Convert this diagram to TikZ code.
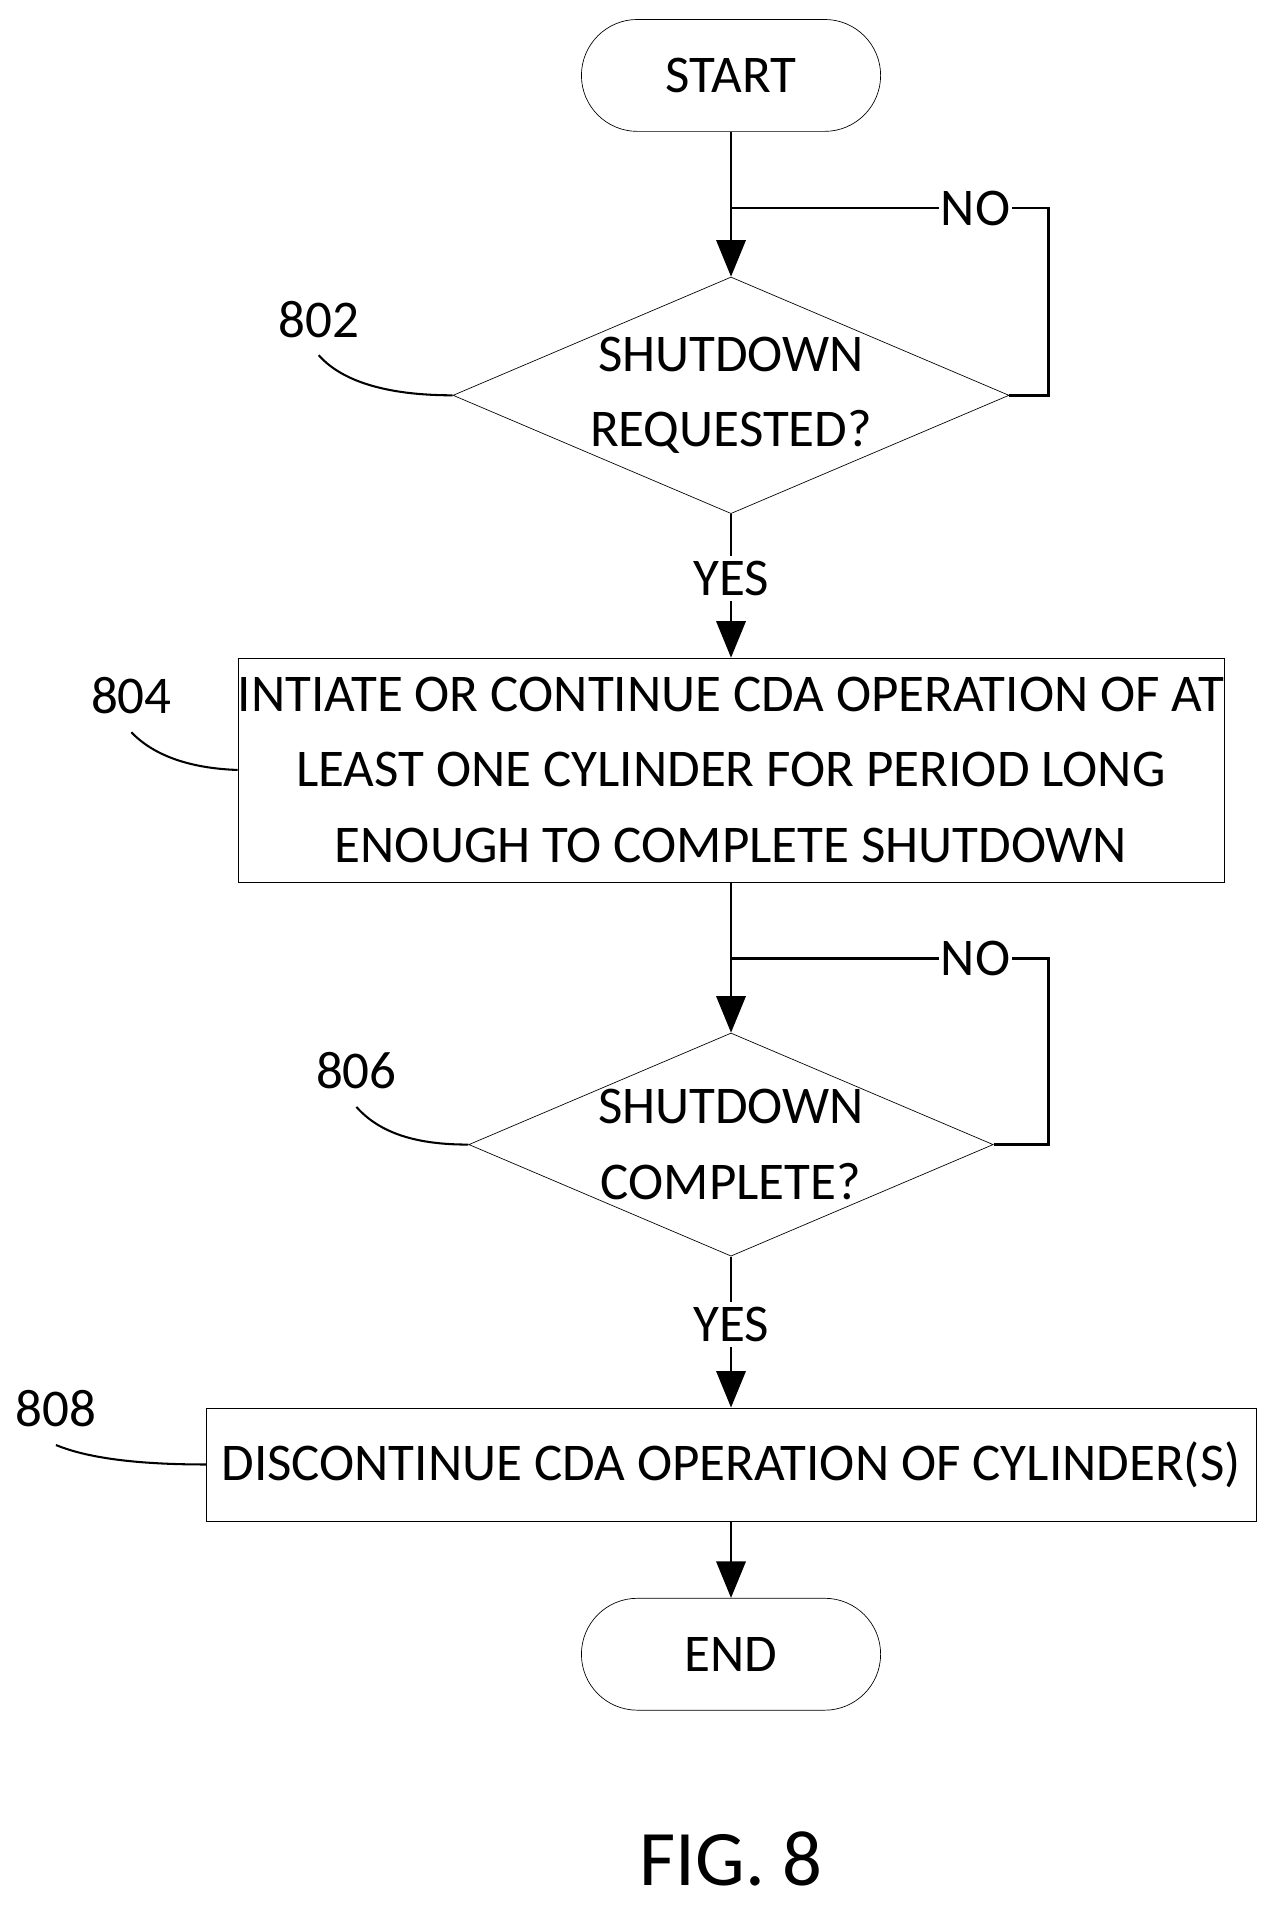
\documentclass[tikz,border=0pt]{standalone}
\usepackage{fontspec}
\setmainfont{Carlito}
\usetikzlibrary{positioning}
\usetikzlibrary{calc}
\usetikzlibrary{shapes.geometric}
\usetikzlibrary{arrows.meta}
\tikzset{txt/.style={font=\fontsize{31}{44}\selectfont}}
\begin{document}
\begin{tikzpicture}[x=0.025cm, y=-0.025cm,
    term/.style={draw, txt, rounded corners=1.15cm, minimum width=246*0.025cm, minimum height=92*0.025cm},
    dec/.style={draw, txt, diamond, aspect=2.35, minimum width=430*0.025cm, minimum height=183*0.025cm, inner sep=0pt, align=center},
    proc/.style={draw, txt, align=center, inner sep=0pt},
    arrow/.style={-{Triangle[length=0.75cm, width=0.6cm]}, line width=1.6pt},
    line/.style={line width=1.6pt},
    ref/.style={txt},
    lead/.style={line width=1.2pt},
]
\useasboundingbox (0,0) rectangle (1050,1567);
\node[term] (start) at (601,62) {START};
\node[dec] (req) at (601,325) {SHUTDOWN\\REQUESTED?};
\node[proc, minimum width=802*0.025cm, minimum height=184*0.025cm] (cda) at (601,633) {INTIATE OR CONTINUE CDA OPERATION OF AT\\LEAST ONE CYLINDER FOR PERIOD LONG\\ENOUGH TO COMPLETE SHUTDOWN};
\node[dec] (done) at (601,941) {SHUTDOWN\\COMPLETE?};
\node[proc, minimum width=863*0.025cm, minimum height=93*0.025cm] (stop) at (601,1204) {DISCONTINUE CDA OPERATION OF CYLINDER(S)};
\node[term] (end) at (601,1360) {END};
\node[txt, font=\fontsize{46}{50}\selectfont] (fig) at (601,1528) {FIG. 8};

% loop points
\coordinate (join1) at (601,171);
\coordinate (corner1) at (862,171);
\coordinate (join2) at (601,788);
\coordinate (corner2) at (862,788);

\draw[arrow] (start) -- (req);
\draw[line] (req.east) -| (corner1) -- node[txt, fill=white, inner sep=1pt, pos=0.23] {NO} (join1);
\draw[arrow] (req) -- node[txt, fill=white, inner sep=3pt, pos=0.45] {YES} (cda);
\draw[arrow] (cda) -- (done);
\draw[line] (done.east) -| (corner2) -- node[txt, fill=white, inner sep=1pt, pos=0.23] {NO} (join2);
\draw[arrow] (done) -- node[txt, fill=white, inner sep=3pt, pos=0.45] {YES} (stop);
\draw[arrow] (stop) -- (end);

% reference numerals
\node[ref] (n802) at (262,263) {802};
\node[ref] (n804) at (108,572) {804};
\node[ref] (n806) at (293,880) {806};
\node[ref] (n808) at (46,1158) {808};
\draw[lead] (262,292) .. controls (285,318) and (330,325) .. (req.west);
\draw[lead] (108,602) .. controls (130,625) and (165,632) .. (cda.west);
\draw[lead] (293,910) .. controls (315,935) and (350,941) .. (done.west);
\draw[lead] (46,1188) .. controls (75,1200) and (120,1204) .. (stop.west);
\end{tikzpicture}
\end{document}
